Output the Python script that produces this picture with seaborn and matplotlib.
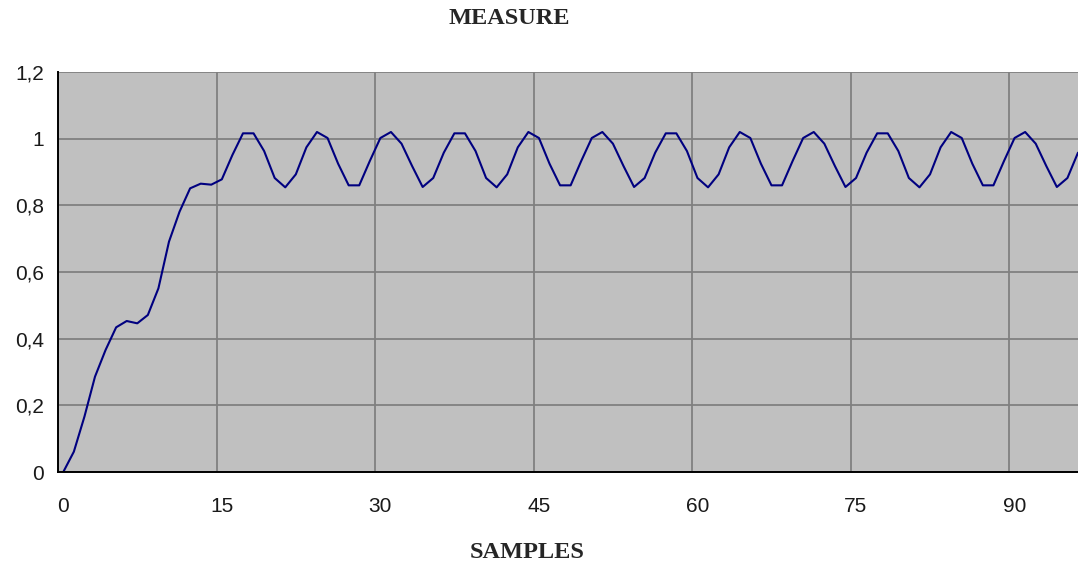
import numpy as np
import pandas as pd
import matplotlib
matplotlib.use("Agg")
import matplotlib.pyplot as plt
import matplotlib.ticker as mticker
import matplotlib.transforms as mtransforms
import seaborn as sns

# Measured response, one value per sample (samples 0..96)
measure = [
    0.000, 0.061, 0.166, 0.286, 0.366, 0.434, 0.453, 0.446, 0.471, 0.551,
    0.691, 0.781, 0.851, 0.865, 0.862, 0.878, 0.951, 1.016, 1.016, 0.963,
    0.882, 0.854, 0.893, 0.974, 1.020, 1.002, 0.925, 0.860, 0.860, 0.933,
    1.002, 1.020, 0.985, 0.918, 0.855, 0.882, 0.958, 1.016, 1.016, 0.963,
    0.882, 0.854, 0.893, 0.974, 1.020, 1.002, 0.925, 0.860, 0.860, 0.933,
    1.002, 1.020, 0.985, 0.918, 0.855, 0.882, 0.958, 1.016, 1.016, 0.963,
    0.882, 0.854, 0.893, 0.974, 1.020, 1.002, 0.925, 0.860, 0.860, 0.933,
    1.002, 1.020, 0.985, 0.918, 0.855, 0.882, 0.958, 1.016, 1.016, 0.963,
    0.882, 0.854, 0.893, 0.974, 1.020, 1.002, 0.925, 0.860, 0.860, 0.933,
    1.002, 1.020, 0.985, 0.918, 0.855, 0.882, 0.958,
]
x_ticks = [0, 15, 30, 45, 60, 75, 90]
y_ticks = [0, 0.2, 0.4, 0.6, 0.8, 1.0, 1.2]
title = "MEASURE"
x_label = "SAMPLES"

# Samples sit in the middle of their category slot
df = pd.DataFrame({"sample": np.arange(len(measure)) + 0.5, "measure": measure})

sns.set_style("white")
plt.rcParams["font.family"] = ["Liberation Sans", "DejaVu Sans"]

fig = plt.figure(figsize=(10.78, 5.66), dpi=100)
ax = fig.add_axes([58 / 1078, 1 - 472 / 566, 1 - 58 / 1078, (472 - 72) / 566])
ax.set_facecolor("#C0C0C0")

sns.lineplot(data=df, x="sample", y="measure", ax=ax, color="#000080",
             linewidth=1.5, zorder=3)

ax.set_xlim(0, 96.5)
ax.set_ylim(0, 1.2)
ax.set_xticks(x_ticks)
ax.set_yticks(y_ticks)
ax.yaxis.set_major_formatter(mticker.FuncFormatter(
    lambda v, _: ("%g" % round(v, 1)).replace(".", ",")))

ax.grid(True, color="#808080", linewidth=1.3, zorder=1)
ax.set_axisbelow(True)
for side in ("top", "right"):
    ax.spines[side].set_visible(False)
for side in ("left", "bottom"):
    ax.spines[side].set_color("black")
    ax.spines[side].set_linewidth(1.4)
    ax.spines[side].set_zorder(4)

ax.tick_params(axis="both", direction="out", length=5, width=1.2,
               colors="black", labelsize=15, labelcolor="#1a1a1a")
ax.tick_params(axis="x", pad=13)
ax.tick_params(axis="y", pad=5)
ax.set_xlabel("")
ax.set_ylabel("")

# category labels sit a little to the right of their tick marks
shift = mtransforms.ScaledTranslation(5 / 100, 0, fig.dpi_scale_trans)
for lbl in ax.get_xticklabels():
    lbl.set_transform(lbl.get_transform() + shift)

fig.text(509 / 1078, 1 - 18 / 566, title, ha="center", va="center",
         fontsize=17.5, fontweight="bold", family="Liberation Serif")
fig.text(527 / 1078, 1 - 552 / 566, x_label, ha="center", va="center",
         fontsize=17.5, fontweight="bold", family="Liberation Serif")

fig.savefig("out.png", dpi=100)
